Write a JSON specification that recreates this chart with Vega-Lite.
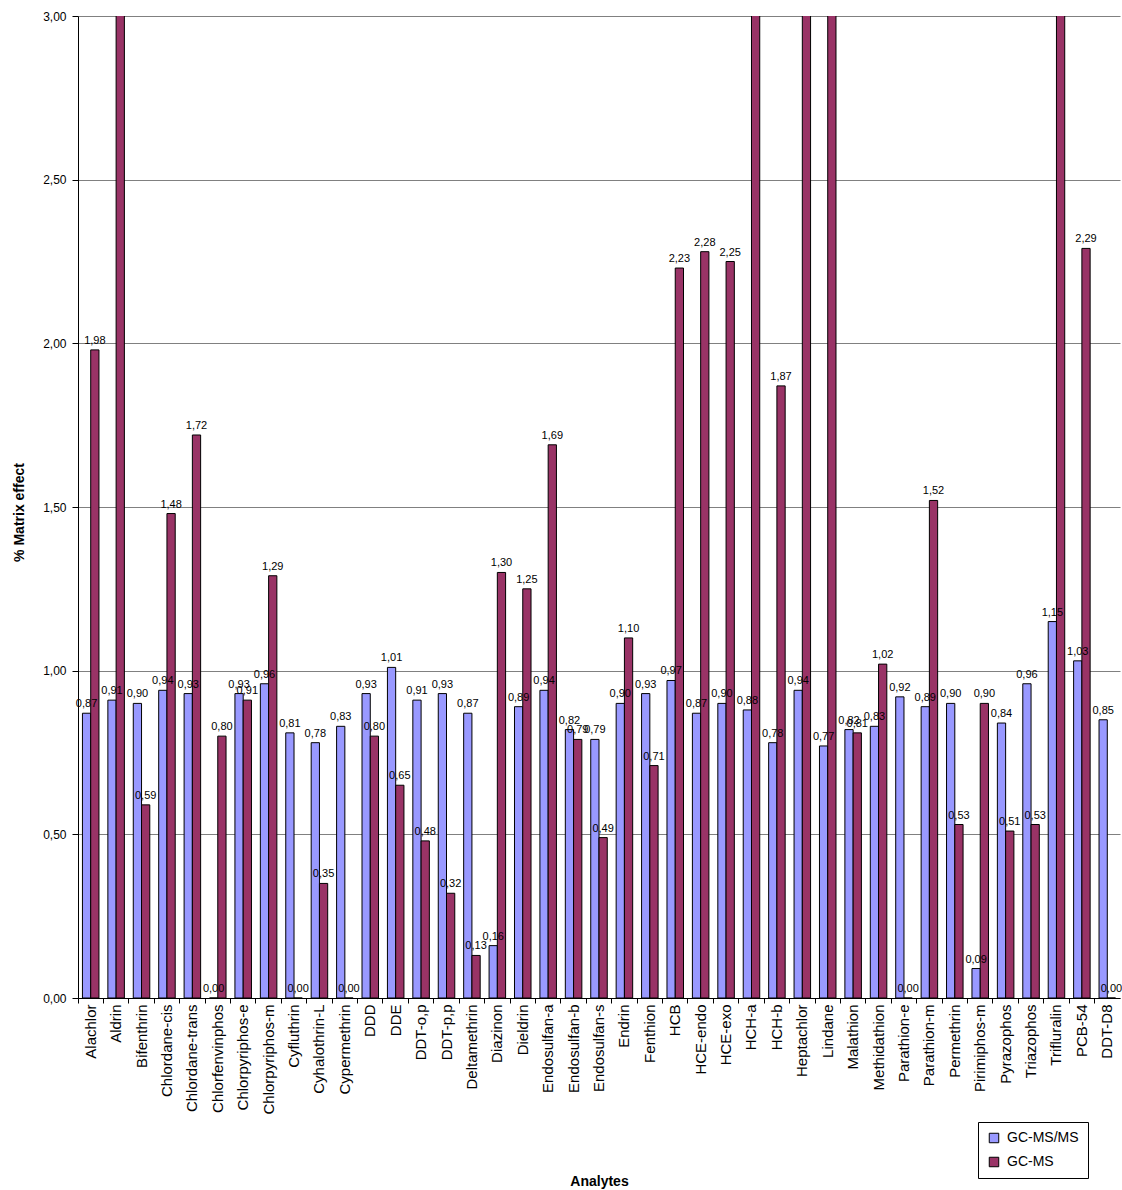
{
  "$schema": "https://vega.github.io/schema/vega-lite/v6.json",
  "width": 1042,
  "height": 982,
  "autosize": {"type": "none"},
  "padding": {"left": 78, "top": 16, "right": 2, "bottom": 192},
  "config": {
    "view": {"stroke": null},
    "font": "Liberation Sans",
    "locale": {"number": {"decimal": ",", "thousands": ".", "grouping": [3], "currency": ["", " €"]}}
  },
  "data": {
    "values": [
      {"analyte": "Alachlor", "series": "GC-MS/MS", "value": 0.87}, {"analyte": "Alachlor", "series": "GC-MS", "value": 1.98},
      {"analyte": "Aldrin", "series": "GC-MS/MS", "value": 0.91}, {"analyte": "Aldrin", "series": "GC-MS", "value": 3.5},
      {"analyte": "Bifenthrin", "series": "GC-MS/MS", "value": 0.90}, {"analyte": "Bifenthrin", "series": "GC-MS", "value": 0.59},
      {"analyte": "Chlordane-cis", "series": "GC-MS/MS", "value": 0.94}, {"analyte": "Chlordane-cis", "series": "GC-MS", "value": 1.48},
      {"analyte": "Chlordane-trans", "series": "GC-MS/MS", "value": 0.93}, {"analyte": "Chlordane-trans", "series": "GC-MS", "value": 1.72},
      {"analyte": "Chlorfenvinphos", "series": "GC-MS/MS", "value": 0.00}, {"analyte": "Chlorfenvinphos", "series": "GC-MS", "value": 0.80},
      {"analyte": "Chlorpyriphos-e", "series": "GC-MS/MS", "value": 0.93}, {"analyte": "Chlorpyriphos-e", "series": "GC-MS", "value": 0.91},
      {"analyte": "Chlorpyriphos-m", "series": "GC-MS/MS", "value": 0.96}, {"analyte": "Chlorpyriphos-m", "series": "GC-MS", "value": 1.29},
      {"analyte": "Cyfluthrin", "series": "GC-MS/MS", "value": 0.81}, {"analyte": "Cyfluthrin", "series": "GC-MS", "value": 0.00},
      {"analyte": "Cyhalothrin-L", "series": "GC-MS/MS", "value": 0.78}, {"analyte": "Cyhalothrin-L", "series": "GC-MS", "value": 0.35},
      {"analyte": "Cypermethrin", "series": "GC-MS/MS", "value": 0.83}, {"analyte": "Cypermethrin", "series": "GC-MS", "value": 0.00},
      {"analyte": "DDD", "series": "GC-MS/MS", "value": 0.93}, {"analyte": "DDD", "series": "GC-MS", "value": 0.80},
      {"analyte": "DDE", "series": "GC-MS/MS", "value": 1.01}, {"analyte": "DDE", "series": "GC-MS", "value": 0.65},
      {"analyte": "DDT-o,p", "series": "GC-MS/MS", "value": 0.91}, {"analyte": "DDT-o,p", "series": "GC-MS", "value": 0.48},
      {"analyte": "DDT-p,p", "series": "GC-MS/MS", "value": 0.93}, {"analyte": "DDT-p,p", "series": "GC-MS", "value": 0.32},
      {"analyte": "Deltamethrin", "series": "GC-MS/MS", "value": 0.87}, {"analyte": "Deltamethrin", "series": "GC-MS", "value": 0.13},
      {"analyte": "Diazinon", "series": "GC-MS/MS", "value": 0.16}, {"analyte": "Diazinon", "series": "GC-MS", "value": 1.30},
      {"analyte": "Dieldrin", "series": "GC-MS/MS", "value": 0.89}, {"analyte": "Dieldrin", "series": "GC-MS", "value": 1.25},
      {"analyte": "Endosulfan-a", "series": "GC-MS/MS", "value": 0.94}, {"analyte": "Endosulfan-a", "series": "GC-MS", "value": 1.69},
      {"analyte": "Endosulfan-b", "series": "GC-MS/MS", "value": 0.82}, {"analyte": "Endosulfan-b", "series": "GC-MS", "value": 0.79},
      {"analyte": "Endosulfan-s", "series": "GC-MS/MS", "value": 0.79}, {"analyte": "Endosulfan-s", "series": "GC-MS", "value": 0.49},
      {"analyte": "Endrin", "series": "GC-MS/MS", "value": 0.90}, {"analyte": "Endrin", "series": "GC-MS", "value": 1.10},
      {"analyte": "Fenthion", "series": "GC-MS/MS", "value": 0.93}, {"analyte": "Fenthion", "series": "GC-MS", "value": 0.71},
      {"analyte": "HCB", "series": "GC-MS/MS", "value": 0.97}, {"analyte": "HCB", "series": "GC-MS", "value": 2.23},
      {"analyte": "HCE-endo", "series": "GC-MS/MS", "value": 0.87}, {"analyte": "HCE-endo", "series": "GC-MS", "value": 2.28},
      {"analyte": "HCE-exo", "series": "GC-MS/MS", "value": 0.90}, {"analyte": "HCE-exo", "series": "GC-MS", "value": 2.25},
      {"analyte": "HCH-a", "series": "GC-MS/MS", "value": 0.88}, {"analyte": "HCH-a", "series": "GC-MS", "value": 3.5},
      {"analyte": "HCH-b", "series": "GC-MS/MS", "value": 0.78}, {"analyte": "HCH-b", "series": "GC-MS", "value": 1.87},
      {"analyte": "Heptachlor", "series": "GC-MS/MS", "value": 0.94}, {"analyte": "Heptachlor", "series": "GC-MS", "value": 3.5},
      {"analyte": "Lindane", "series": "GC-MS/MS", "value": 0.77}, {"analyte": "Lindane", "series": "GC-MS", "value": 3.5},
      {"analyte": "Malathion", "series": "GC-MS/MS", "value": 0.82}, {"analyte": "Malathion", "series": "GC-MS", "value": 0.81},
      {"analyte": "Methidathion", "series": "GC-MS/MS", "value": 0.83}, {"analyte": "Methidathion", "series": "GC-MS", "value": 1.02},
      {"analyte": "Parathion-e", "series": "GC-MS/MS", "value": 0.92}, {"analyte": "Parathion-e", "series": "GC-MS", "value": 0.00},
      {"analyte": "Parathion-m", "series": "GC-MS/MS", "value": 0.89}, {"analyte": "Parathion-m", "series": "GC-MS", "value": 1.52},
      {"analyte": "Permethrin", "series": "GC-MS/MS", "value": 0.90}, {"analyte": "Permethrin", "series": "GC-MS", "value": 0.53},
      {"analyte": "Pirimiphos-m", "series": "GC-MS/MS", "value": 0.09}, {"analyte": "Pirimiphos-m", "series": "GC-MS", "value": 0.90},
      {"analyte": "Pyrazophos", "series": "GC-MS/MS", "value": 0.84}, {"analyte": "Pyrazophos", "series": "GC-MS", "value": 0.51},
      {"analyte": "Triazophos", "series": "GC-MS/MS", "value": 0.96}, {"analyte": "Triazophos", "series": "GC-MS", "value": 0.53},
      {"analyte": "Trifluralin", "series": "GC-MS/MS", "value": 1.15}, {"analyte": "Trifluralin", "series": "GC-MS", "value": 3.5},
      {"analyte": "PCB-54", "series": "GC-MS/MS", "value": 1.03}, {"analyte": "PCB-54", "series": "GC-MS", "value": 2.29},
      {"analyte": "DDT-D8", "series": "GC-MS/MS", "value": 0.85}, {"analyte": "DDT-D8", "series": "GC-MS", "value": 0.00}
    ]
  },
  "resolve": {"axis": {"x": "independent"}},
  "layer": [
    {
      "mark": {"type": "bar", "stroke": "black", "strokeWidth": 1, "clip": true},
      "encoding": {
        "x": {
          "field": "analyte", "type": "nominal", "sort": null,
          "scale": {"paddingInner": 0.35, "paddingOuter": 0.175},
          "axis": {
            "orient": "bottom", "title": "Analytes", "labelAngle": -90, "labelFontSize": 15,
            "labelColor": "black", "labelPadding": 6, "ticks": false, "domain": true,
            "domainColor": "black", "domainWidth": 1, "grid": false,
            "titleFontSize": 14, "titleFontWeight": "bold", "titleColor": "black",
            "titleY": 183, "titleBaseline": "middle"
          }
        },
        "xOffset": {"field": "series", "type": "nominal", "sort": ["GC-MS/MS", "GC-MS"], "scale": {"paddingInner": 0, "paddingOuter": 0}},
        "y": {
          "field": "value", "type": "quantitative",
          "scale": {"domain": [0, 3], "nice": false, "clamp": false},
          "axis": {
            "title": "% Matrix effect", "values": [0, 0.5, 1, 1.5, 2, 2.5, 3], "format": ".2f",
            "labelFontSize": 12, "labelColor": "black", "labelPadding": 6,
            "grid": true, "gridColor": "#808080", "gridWidth": 1, "gridOpacity": 1,
            "domainColor": "black", "tickColor": "black", "tickSize": 6,
            "titleFontSize": 14, "titleFontWeight": "bold", "titleColor": "black",
            "titleAngle": -90, "titleX": -59, "titleY": 496, "titleBaseline": "middle", "titleAlign": "center"
          }
        },
        "color": {
          "field": "series", "type": "nominal",
          "scale": {"domain": ["GC-MS/MS", "GC-MS"], "range": ["#9999FF", "#993366"]},
          "legend": {
            "orient": "none", "legendX": 900, "legendY": 1106, "title": null,
            "strokeColor": "black", "fillColor": "white", "padding": 9,
            "symbolType": "square", "symbolSize": 90, "symbolStrokeColor": "black", "symbolStrokeWidth": 1,
            "symbolOpacity": 1, "labelFontSize": 14, "labelColor": "black", "rowPadding": 10, "labelOffset": 6
          }
        }
      }
    },
    {
      "transform": [{"filter": "datum.value <= 3"}],
      "mark": {"type": "text", "baseline": "bottom", "dy": -4, "fontSize": 11, "color": "black"},
      "encoding": {
        "x": {
          "field": "analyte", "type": "nominal", "sort": null,
          "axis": {
            "orient": "bottom", "title": null, "labels": false, "ticks": true, "tickSize": 5,
            "tickColor": "black", "bandPosition": -0.269, "domain": false, "grid": false
          }
        },
        "xOffset": {"field": "series", "type": "nominal", "sort": ["GC-MS/MS", "GC-MS"]},
        "y": {"field": "value", "type": "quantitative"},
        "text": {"field": "value", "type": "quantitative", "format": ".2f"}
      }
    }
  ]
}
